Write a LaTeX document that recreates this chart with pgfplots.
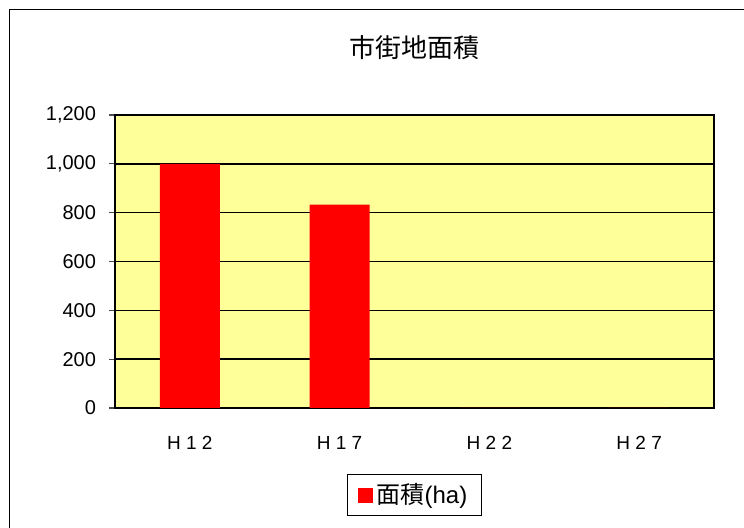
\documentclass[border=0pt]{standalone}
\usepackage{pgfplots}
\pgfplotsset{compat=1.18}
\usepackage{fontspec}
\setmainfont{Liberation Sans}
\newfontfamily\cjk{Noto Sans CJK JP}
\definecolor{plotbg}{HTML}{FFFF99}
\begin{document}
\begin{tikzpicture}[x=1pt,y=1pt]
  % 1 px of the reference = 0.5pt
  \useasboundingbox (0,0) rectangle (372,264);
  \draw[black, line width=0.8pt] (4.75,0) -- (4.75,259.25) -- (372,259.25);
  \node[font=\fontsize{13}{15}\selectfont\cjk] at (207.25,240) {市街地面積};
  \begin{axis}[
      at={(57.5pt,60pt)}, anchor=south west,
      scale only axis,
      width=299.5pt, height=146.5pt,
      axis background/.style={fill=plotbg},
      axis line style={black, line width=0.7pt},
      ymin=0, ymax=1200,
      ytick={0,200,...,1200},
      ymajorgrids,
      major grid style={black, line width=0.7pt},
      xmin=-0.5, xmax=3.5,
      xtick={0,1,2,3},
      xticklabels={H 1 2, H 1 7, H 2 2, H 2 7},
      major x tick style={draw=none},
      extra x ticks={0.5,1.5,2.5},
      extra x tick labels={},
      extra x tick style={major tick length=3pt, tick align=outside,
        major tick style={black!70, line width=0.6pt}, grid=none},
      ytick style={black!70, line width=0.6pt},
      tick align=outside,
      major tick length=3pt,
      ytick pos=left, xtick pos=bottom,
      /pgf/number format/assume math mode=true,
      /pgf/number format/1000 sep={,},
      yticklabel style={font=\fontsize{10}{12}\selectfont, xshift=-3pt},
      xticklabel style={font=\fontsize{9.5}{11}\selectfont, yshift=-7.5pt},
      ybar, bar width=30pt,
      legend style={at={(0.5,-0.297)}, anchor=center, draw=black,
        line width=0.6pt, font=\fontsize{12}{14}\selectfont,
        inner xsep=5pt, inner ysep=2.5pt},
      legend image code/.code={%
        \fill[red] (0pt,-3.75pt) rectangle (7.5pt,3.75pt);
      },
    ]
    \addplot[fill=red, draw=none] coordinates {(0,1000) (1,833) (2,0) (3,0)};
    \legend{{\cjk 面積}(ha)}
  \end{axis}
\end{tikzpicture}
\end{document}
